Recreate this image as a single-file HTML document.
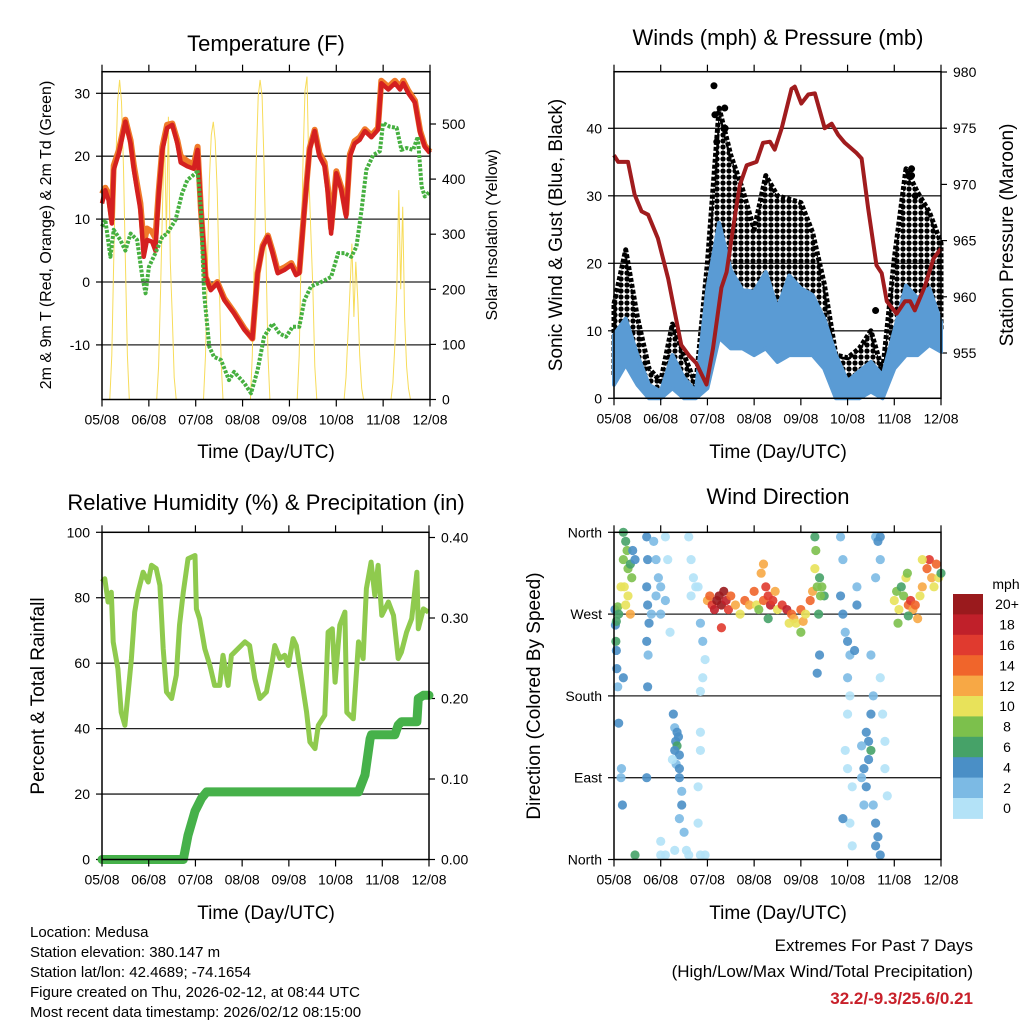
<!DOCTYPE html>
<html><head><meta charset="utf-8"><title>Station Meteogram - Medusa</title>
<style>
html,body{margin:0;padding:0;background:#fff;}
svg{display:block;font-family:"Liberation Sans",Arial,sans-serif;}
.tl{font-size:14px;fill:#000;}
.tt{font-size:22px;fill:#000;}
.at{font-size:19px;fill:#000;}
.ft{font-size:15px;fill:#000;}
</style></head>
<body>
<svg id="root" width="1024" height="1024" viewBox="0 0 1024 1024">
<defs>
<pattern id="gustdots" x="0" y="0" width="6" height="6" patternUnits="userSpaceOnUse">
<circle cx="3" cy="3" r="2.6" fill="#000"/>
</pattern>
</defs>
<rect x="0" y="0" width="1024" height="1024" fill="#fff"/>
<g id="p1"></g>
<g id="p2"></g>
<g id="p3"></g>
<g id="p4"></g>
<text class="tt" x="266" y="51" text-anchor="middle">Temperature (F)</text>
<text class="tt" x="778" y="45" text-anchor="middle">Winds (mph) &amp; Pressure (mb)</text>
<text class="tt" x="266" y="510" text-anchor="middle">Relative Humidity (%) &amp; Precipitation (in)</text>
<text class="tt" x="778" y="504" text-anchor="middle">Wind Direction</text>
<text class="at" x="266" y="458" text-anchor="middle">Time (Day/UTC)</text>
<text class="at" x="778" y="458" text-anchor="middle">Time (Day/UTC)</text>
<text class="at" x="266" y="919" text-anchor="middle">Time (Day/UTC)</text>
<text class="at" x="778" y="919" text-anchor="middle">Time (Day/UTC)</text>
<text class="tl" style="font-size:16px" transform="translate(51,235) rotate(-90)" text-anchor="middle">2m &amp; 9m T (Red, Orange) &amp; 2m Td (Green)</text>
<text class="tl" style="font-size:16px" transform="translate(497,235) rotate(-90)" text-anchor="middle">Solar Insolation (Yellow)</text>
<text class="at" transform="translate(562,235) rotate(-90)" text-anchor="middle">Sonic Wind &amp; Gust (Blue, Black)</text>
<text class="at" transform="translate(1013,235) rotate(-90)" text-anchor="middle">Station Pressure (Maroon)</text>
<text class="at" transform="translate(44,696) rotate(-90)" text-anchor="middle">Percent &amp; Total Rainfall</text>
<text class="at" transform="translate(540,696) rotate(-90)" text-anchor="middle">Direction (Colored By Speed)</text>
<g>
<text class="ft" x="30" y="937">Location: Medusa</text>
<text class="ft" x="30" y="957">Station elevation: 380.147 m</text>
<text class="ft" x="30" y="977">Station lat/lon: 42.4689; -74.1654</text>
<text class="ft" x="30" y="997">Figure created on Thu, 2026-02-12, at 08:44 UTC</text>
<text class="ft" x="30" y="1017">Most recent data timestamp: 2026/02/12 08:15:00</text>
</g>
<g>
<text class="ft" style="font-size:17px" x="973" y="951" text-anchor="end">Extremes For Past 7 Days</text>
<text class="ft" style="font-size:17px" x="973" y="977" text-anchor="end">(High/Low/Max Wind/Total Precipitation)</text>
<text class="ft" style="font-size:17px;font-weight:bold;fill:#c8202a" x="973" y="1004" text-anchor="end">32.2/-9.3/25.6/0.21</text>
</g>
<g id="cbar"></g>
</svg>
<script>
// ---------- data ----------
const dayLabels = ["05/08","06/08","07/08","08/08","09/08","10/08","11/08","12/08"];
const tempTicks = [-10,0,10,20,30];
const solarTicks = [0,100,200,300,400,500];
const windTicks = [0,10,20,30,40];
const pressTicks = [955,960,965,970,975,980];
const rhTicks = [0,20,40,60,80,100];
const precipTicks = [0,0.1,0.2,0.3,0.4];
const dirTicks = [0,90,180,270,360];
const dirLabels = ["North","East","South","West","North"];

const redTime = [0,0.07,0.14,0.21,0.25,0.36,0.5,0.61,0.68,0.75,0.82,0.89,0.96,1.07,1.14,1.21,1.29,1.39,1.5,1.61,1.68,1.82,1.96,2.04,2.11,2.21,2.32,2.46,2.61,2.82,3.04,3.21,3.32,3.43,3.54,3.64,3.75,3.89,4.04,4.14,4.21,4.32,4.43,4.54,4.64,4.75,4.82,4.89,5.0,5.11,5.21,5.29,5.39,5.5,5.61,5.75,5.89,5.96,6.11,6.25,6.36,6.43,6.54,6.68,6.79,6.89,7.0];
const redTemp = [12.5,14.6,13,9.3,17.8,20.5,25.5,22,17.8,14.6,11.5,4,6.7,6.4,5,14,21,24.5,25,22,19,18.4,18,21,11.5,0.8,-1.3,-0.2,-2.9,-5,-7.6,-9,1.4,5.6,7.2,4.6,1.4,1.9,2.7,1.1,1.4,11.5,21,24,20,18.4,14.1,7.7,17.3,14.6,10.4,20,22,22.6,24,23,24.2,31.6,30.6,31.6,30.6,31.6,30,28.5,23.7,21.5,20.5];
const orangeTemp = [14,15,14,10,18.5,21,25.8,22.5,18.5,15.5,12.5,6,8.5,8,7,14.5,21.5,25,25.2,22.5,20,19.2,18.7,21.5,11.5,0.8,-1,0,-2.6,-4.8,-7.4,-9,1.4,5.8,7.4,4.9,1.8,2.3,3,1.4,1.6,11.8,21.3,24.2,20.5,19,15,8.5,17.6,15,10.8,20.3,22.4,23,24.3,23.3,24.5,32,31,32,31,32,30.4,28.8,24,21.7,20.7];
const dewTime = [0,0.07,0.18,0.25,0.39,0.5,0.61,0.75,0.86,0.93,1.0,1.14,1.29,1.39,1.57,1.71,1.82,2.0,2.04,2.11,2.18,2.29,2.39,2.54,2.71,2.82,3.04,3.18,3.32,3.46,3.64,3.79,3.93,4.07,4.21,4.32,4.46,4.68,4.89,5.04,5.18,5.32,5.43,5.54,5.64,5.79,5.93,6.0,6.14,6.29,6.39,6.5,6.64,6.74,6.82,6.89,7.0];
const dewTemp = [8.8,9.9,4,8.3,6.7,5,7.7,6.7,0.8,-1.8,2.4,4.6,7.2,7.7,9.9,14.1,16.2,17.3,17.8,11.5,-1.8,-10.3,-11.9,-12.4,-15.6,-14.3,-16.1,-17.7,-14,-8.7,-6.6,-8.2,-8.7,-7.1,-7.1,-2.9,-0.7,0,0.8,4.6,4.6,4,5.6,11.5,17.8,20.2,20.8,25.3,24.7,24.5,21,21.3,21,23.1,15.2,13.6,14.4];
const solarHours = [4,5,6,7,8,9,10,11,12,13,14];
const solarDays = [
 [0,80,250,420,540,580,540,420,250,80,0],
 [0,60,200,350,480,300,513,250,150,40,0],
 [0,80,240,400,480,504,470,380,230,70,0],
 [0,80,260,430,550,580,550,430,260,80,0],
 [0,80,260,440,560,586,400,300,200,60,0],
 [0,40,120,200,283,150,250,180,80,20,0],
 [0,30,100,200,380,200,350,150,60,20,0]];

const pressTime = [0,0.09,0.3,0.44,0.59,0.73,0.94,1.16,1.34,1.44,1.62,1.76,1.98,2.12,2.3,2.41,2.55,2.69,2.84,3.05,3.19,3.34,3.44,3.59,3.8,3.87,4.01,4.16,4.3,4.51,4.66,4.8,4.94,5.19,5.3,5.44,5.62,5.73,5.84,6.05,6.23,6.34,6.44,6.66,6.84,7.0];
const pressure = [972.6,972.0,972.0,969.1,967.6,967.3,965.2,961.6,957.8,955.7,954.7,954.1,952.2,955.4,960.8,962.2,966.1,969.9,971.7,972.0,973.7,973.8,973.1,975.0,978.5,978.7,977.2,978.0,978.1,975.0,975.4,974.4,973.7,972.8,972.3,967.9,962.8,962.1,959.6,958.5,959.6,959.6,958.8,961.0,963.4,964.3];
const windTime = [0,0.25,0.5,0.75,1,1.25,1.5,1.75,2,2.25,2.5,2.75,3,3.25,3.5,3.75,4,4.25,4.5,4.75,5,5.25,5.5,5.75,6,6.25,6.5,6.75,7];
const gustHigh = [14,22,12,4.4,2.5,11,6.4,2,20,43,36,31,25,33,30,29.5,29,24.6,17,6.4,6,7.4,10,4,20.7,34,30.5,27.6,23];
const gustLow = [3.4,6.4,4,1.5,1,3.4,1.5,1,6.4,16,15,11,12,13,11,10,11,9.4,9,1.5,1,2,3,1.5,10,12,11,12,10];
const windHigh = [9.4,11.8,6.4,2,1,6.4,3,1,16.3,26,19,16,15.8,18.7,13.3,18.2,16.3,15.3,11.8,6.4,2.5,4,5.4,3.4,10,16.7,14.8,16.3,11.3];
const windLow = [2,5,2,0,0,1.5,0,0,1.5,9,7.4,7.4,6.4,7.4,5.4,6.4,6.4,6.4,4.4,0,0,0,1,0,4.4,6.4,6.4,7.9,6.9];
const gustPeakTime = [2.14,2.37,2.16,2.38,2.2,6.37,6.37,6.45,5.6];
const gustPeak = [46.3,43,42,40,38,34,33,30,13];

const rhTime = [0,0.06,0.13,0.2,0.24,0.34,0.41,0.49,0.56,0.63,0.7,0.77,0.88,0.99,1.06,1.16,1.24,1.31,1.38,1.49,1.59,1.66,1.74,1.84,1.99,2.02,2.09,2.2,2.31,2.41,2.52,2.59,2.7,2.77,2.91,3.06,3.16,3.27,3.38,3.52,3.63,3.7,3.81,3.91,3.99,4.09,4.16,4.27,4.38,4.45,4.56,4.63,4.77,4.84,4.93,4.99,5.09,5.2,5.24,5.38,5.49,5.59,5.66,5.76,5.84,5.91,5.99,6.13,6.24,6.34,6.41,6.52,6.63,6.74,6.77,6.88,6.99];
const rh = [84.8,85.8,78.7,81.7,66.5,58.3,45,41,51.2,61.4,75.6,81.7,87.8,84.8,89.9,88.9,83.8,64.4,51.2,49.2,56.3,71.6,81.7,91.9,92.9,76.6,73.6,64.4,59.3,53.2,53.2,62.4,53.2,62.4,64.4,66.5,65.4,55.3,49.2,51.2,59.3,65.4,61.4,62.4,59.3,67.5,65.4,55.3,45,35.9,33.9,41,44.1,69.5,70.5,54.2,71.6,75.6,45,43,66.5,61.4,82.8,90.9,80.7,89.9,74.6,78.7,74.6,61.4,63.4,69.5,73.6,87.8,70.5,76.6,75.6];
const precipTime = [0,1.74,1.84,1.99,2.13,2.24,5.49,5.63,5.74,5.77,6.27,6.34,6.41,6.74,6.77,6.88,7.0];
const precip = [0,0,0.03,0.06,0.076,0.084,0.084,0.105,0.15,0.155,0.155,0.167,0.171,0.171,0.2,0.204,0.204];

const dirTime = [0.02,0.03,0.05,0.08,0.1,0.04,0.05,0.06,0.08,0.2,0.25,0.28,0.22,0.25,0.3,0.3,0.35,0.4,0.45,0.38,0.2,0.15,0.35,
 0.1,0.15,0.18,0.16,0.2,0.45,
 0.7,0.72,0.7,0.72,0.75,0.7,0.73,0.72,0.7,0.85,0.9,0.95,0.9,1.0,1.1,1.15,1.0,1.1,0.8,1.2,1.0,1.1,1.0,1.3,
 1.27,1.3,1.32,1.35,1.35,1.3,1.38,1.4,1.33,1.4,1.4,1.45,1.45,1.4,1.5,1.55,1.6,1.25,
 1.6,1.65,1.7,1.65,1.75,1.8,1.85,1.9,1.95,1.9,1.85,1.85,1.85,1.8,1.85,1.95,1.8,
 2.0,2.05,2.1,2.15,2.2,2.25,2.3,2.35,2.4,2.45,2.5,2.6,2.7,2.8,2.9,3.0,3.05,3.1,3.2,3.25,3.3,3.35,3.4,3.45,3.5,3.6,3.7,3.8,3.85,3.9,4.0,4.05,4.1,4.2,4.25,3.2,3.15,3.3,2.3,4.0,3.75,
 4.3,4.32,4.3,4.35,4.4,4.45,4.5,4.38,4.42,4.4,4.35,
 4.85,4.9,4.85,4.9,4.95,5.0,5.05,5.0,5.05,5.0,4.95,5.0,5.1,5.05,5.1,4.9,5.2,5.2,5.15,
 5.4,5.45,5.5,5.45,5.35,5.3,5.4,5.5,5.3,5.35,5.55,5.5,
 5.6,5.65,5.7,5.7,5.6,5.55,5.6,5.65,5.6,5.7,5.7,5.75,5.8,5.8,5.85,
 6.0,6.05,6.1,6.15,6.2,6.25,6.3,6.35,6.4,6.45,6.5,6.55,6.6,6.7,6.75,6.8,6.85,6.9,6.95,7.0,6.08,6.28,6.6,6.3];
const dirDeg = [275,258,262,278,270,240,230,210,190,330,350,340,300,280,320,290,325,340,330,310,360,300,270,
 150,90,60,100,200,5,
 355,330,300,280,260,240,225,190,90,350,330,310,290,270,355,330,300,285,270,250,20,5,5,10,
 160,145,130,140,125,120,135,115,105,100,90,75,60,45,30,10,5,110,
 355,330,310,290,300,300,260,240,220,200,185,140,120,80,5,5,40,
 285,290,280,275,285,290,280,295,285,275,290,280,270,285,280,295,280,275,285,300,290,280,285,295,275,280,275,270,265,260,275,262,270,285,295,325,315,265,255,250,260,
 320,340,355,300,310,300,290,270,290,225,205,
 355,330,290,270,250,240,225,200,180,160,120,100,80,40,15,45,300,280,230,
 140,130,120,110,100,90,80,160,125,60,180,225,
 355,350,355,330,310,60,40,25,15,5,200,160,130,100,70,
 285,295,275,300,290,310,280,285,275,280,265,290,300,320,330,310,300,325,310,315,260,315,330,268];
const dirSpeed = [4,4,6,8,6,6,4,4,2,8,6,8,10,10,8,10,6,4,4,8,6,10,12,
 4,2,4,2,4,6,
 4,4,4,4,4,4,2,4,4,2,2,2,2,2,0,0,2,2,2,0,0,0,0,0,
 4,2,4,4,6,4,4,4,2,4,4,2,4,2,2,0,0,0,
 0,0,0,0,0,0,2,2,0,0,0,0,0,0,0,0,0,
 12,14,16,18,20,20,20,20,18,16,14,12,10,14,12,14,10,8,14,16,16,18,16,12,10,16,18,14,12,10,14,12,10,14,12,12,12,6,16,8,10,
 10,8,6,8,6,8,6,6,8,4,4,
 2,2,4,4,2,4,2,2,0,0,0,0,0,0,0,4,2,4,4,
 4,4,6,4,4,2,4,4,2,2,2,2,
 2,4,4,2,2,2,4,4,4,4,0,0,0,0,0,
 10,8,10,6,8,10,14,16,12,14,12,10,12,14,16,12,10,14,10,6,8,8,10,6];
const speedBins = ["0","2","4","6","8","10","12","14","16","18","20+"];
const speedColors = ["#b3e2f7","#7cbae4","#4a8fc6","#46a268","#7cc04c","#e8e25a","#f7a845","#f0652b","#e03a2f","#c0202a","#9a1a1d"];

// ---------- helpers ----------
const NS = "http://www.w3.org/2000/svg";
function mk(tag, attrs, parent){ const e=document.createElementNS(NS,tag); for(const k in attrs) e.setAttribute(k,attrs[k]); parent.appendChild(e); return e; }
function lin(d0,d1,r0,r1){ return v => r0 + (v-d0)/(d1-d0)*(r1-r0); }
function pathOf(xs,ys,fx,fy){ let d=""; for(let i=0;i<xs.length;i++){ d += (i?"L":"M")+fx(xs[i]).toFixed(1)+","+fy(ys[i]).toFixed(1); } return d; }

function frame(g, L, R, T, B, name){
  const fx = lin(0,7,L,R);
  for(let i=0;i<dayLabels.length;i++){
    const x = fx(i);
    const t1 = mk("line",{x1:x,y1:B,x2:x,y2:B+7,stroke:"#000","stroke-width":1.2},g);
    
    
    const t2 = mk("line",{x1:x,y1:T,x2:x,y2:T-7,stroke:"#000","stroke-width":1.2},g);
    
    
    const lb = mk("text",{x:x,y:B+25,"text-anchor":"middle",class:"tl"},g);
    lb.textContent = dayLabels[i];
    
    
  }
  const bx = mk("rect",{x:L,y:T,width:R-L,height:B-T,fill:"none",stroke:"#000","stroke-width":1.5},g);
  
  
  return fx;
}
function leftAxis(g, ticks, labels, fy, L, R, name, grid){
  ticks.forEach((v,i)=>{
    const y = fy(v);
    if(grid && i>0 && i<ticks.length-1 || grid==="all"){
      const gl = mk("line",{x1:L,y1:y,x2:R,y2:y,stroke:"#222","stroke-width":1.3},g);
      
      
    }
    const tk = mk("line",{x1:L,y1:y,x2:L-6,y2:y,stroke:"#000","stroke-width":1.2},g);
    
    
    const lb = mk("text",{x:L-12,y:y+5,"text-anchor":"end",class:"tl"},g);
    lb.textContent = labels[i];
    
    
  });
}
function rightAxis(g, ticks, labels, fy, R, name){
  ticks.forEach((v,i)=>{
    const y = fy(v);
    const tk = mk("line",{x1:R,y1:y,x2:R+6,y2:y,stroke:"#000","stroke-width":1.2},g);
    
    
    const lb = mk("text",{x:R+12,y:y+5,"text-anchor":"start",class:"tl"},g);
    lb.textContent = labels[i];
    
    
  });
}

// ---------- panel 1: temperature ----------
(function(){
  const g = document.getElementById("p1");
  const L=102,R=430,T=71.7,B=399.5;
  const fy = lin(0,30,282,93.3);
  const fs = lin(0,500,B,124);
  const fx = lin(0,7,L,R);
  leftAxis(g,tempTicks,tempTicks.map(String),fy,L,R,"temperature","all");
  rightAxis(g,solarTicks,solarTicks.map(String),fs,R,"solar");
  let d="";
  solarDays.forEach((day,k)=>{ day.forEach((v,j)=>{ d += (j?"L":"M")+fx(k+solarHours[j]/24).toFixed(1)+","+fs(v).toFixed(1); }); });
  const sp = mk("path",{d:d,fill:"none",stroke:"#f7dc5a","stroke-width":1},g);
  
  
  const op = mk("path",{d:pathOf(redTime,orangeTemp,fx,fy),fill:"none",stroke:"#f07a2a","stroke-width":6,"stroke-linejoin":"round"},g);
  
  
  const rp = mk("path",{d:pathOf(redTime,redTemp,fx,fy),fill:"none",stroke:"#d42020","stroke-width":4.5,"stroke-linejoin":"round"},g);
  
  
  const gp = mk("path",{d:pathOf(dewTime,dewTemp,fx,fy),fill:"none",stroke:"#46b040","stroke-width":4,"stroke-dasharray":"3 1.5","stroke-linejoin":"round"},g);
  
  
  frame(g,L,R,T,B,"temperature");
})();

// ---------- panel 2: winds & pressure ----------
(function(){
  const g = document.getElementById("p2");
  const L=614,R=941,T=71.7,B=398.3;
  const fy = lin(0,40,B,128.3);
  const fp = lin(955,980,353,72);
  const fx = lin(0,7,L,R);
  leftAxis(g,windTicks,windTicks.map(String),fy,L,R,"wind","all");
  rightAxis(g,pressTicks,pressTicks.map(String),fp,R,"pressure");
  function band(hi,lo,fill,stroke,sw,name){
    let d="";
    windTime.forEach((t,i)=>{ d += (i?"L":"M")+fx(t).toFixed(1)+","+fy(hi[i]).toFixed(1); });
    for(let i=windTime.length-1;i>=0;i--){ d += "L"+fx(windTime[i]).toFixed(1)+","+fy(lo[i]).toFixed(1); }
    d += "Z";
    const p = mk("path",{d:d,fill:fill,stroke:stroke,"stroke-width":sw,"stroke-linejoin":"round","stroke-dasharray":stroke==="#000"?"4 2":"none"},g);
    
    
  }
  band(gustHigh,gustLow,"url(#gustdots)","#000",5,"gust-scatter");
  gustPeakTime.forEach((t,i)=>{
    const c = mk("circle",{cx:fx(t),cy:fy(gustPeak[i]),r:3.5,fill:"#000"},g);
    
    
  });
  band(windHigh,windLow,"#5a9bd4","#5a9bd4",4,"wind-scatter");
  const pp = mk("path",{d:pathOf(pressTime,pressure,fx,fp),fill:"none",stroke:"#a01c1e","stroke-width":4,"stroke-linejoin":"round"},g);
  
  
  frame(g,L,R,T,B,"winds");
})();

// ---------- panel 3: RH & precip ----------
(function(){
  const g = document.getElementById("p3");
  const L=102,R=429,T=532.3,B=859.5;
  const fy = lin(0,100,B,T);
  const fp = lin(0,0.1,B,779);
  const fx = lin(0,7,L,R);
  leftAxis(g,rhTicks,rhTicks.map(String),fy,L,R,"humidity",true);
  rightAxis(g,precipTicks,precipTicks.map(v=>v.toFixed(2)),fp,R,"precip");
  const hp = mk("path",{d:pathOf(rhTime,rh,fx,fy),fill:"none",stroke:"#8fca4e","stroke-width":5,"stroke-linejoin":"round"},g);
  
  
  const pp = mk("path",{d:pathOf(precipTime,precip,fx,fp),fill:"none",stroke:"#46b14a","stroke-width":9,"stroke-linejoin":"round","stroke-linecap":"round"},g);
  
  
  frame(g,L,R,T,B,"humidity");
})();

// ---------- panel 4: wind direction ----------
(function(){
  const g = document.getElementById("p4");
  const L=614,R=941,T=532.3,B=859.5;
  const fy = lin(0,360,B,T);
  const fx = lin(0,7,L,R);
  leftAxis(g,dirTicks,dirLabels,fy,L,R,"direction",true);
  dirTime.forEach((t,i)=>{
    const bin = Math.min(10, Math.floor(dirSpeed[i]/2));
    const c = mk("circle",{cx:fx(t),cy:fy(dirDeg[i]),r:4.6,fill:speedColors[bin],"fill-opacity":0.9},g);
    
    
  });
  frame(g,L,R,T,B,"direction");
  const cb = document.getElementById("cbar");
  const top=594, h=20.4;
  const ttl = mk("text",{x:1006,y:589,"text-anchor":"middle",class:"tl",style:"font-size:14px"},cb);
  ttl.textContent = "mph";
  
  
  for(let k=0;k<speedBins.length;k++){
    const idx = speedBins.length-1-k;
    const r = mk("rect",{x:953,y:top+k*h,width:30,height:h+0.5,fill:speedColors[idx]},cb);
    
    
    const lb = mk("text",{x:1007,y:top+k*h+h/2+5,"text-anchor":"middle",class:"tl",style:"font-size:14px"},cb);
    lb.textContent = speedBins[idx];
    
    
  }
})();
</script>
</body></html>
